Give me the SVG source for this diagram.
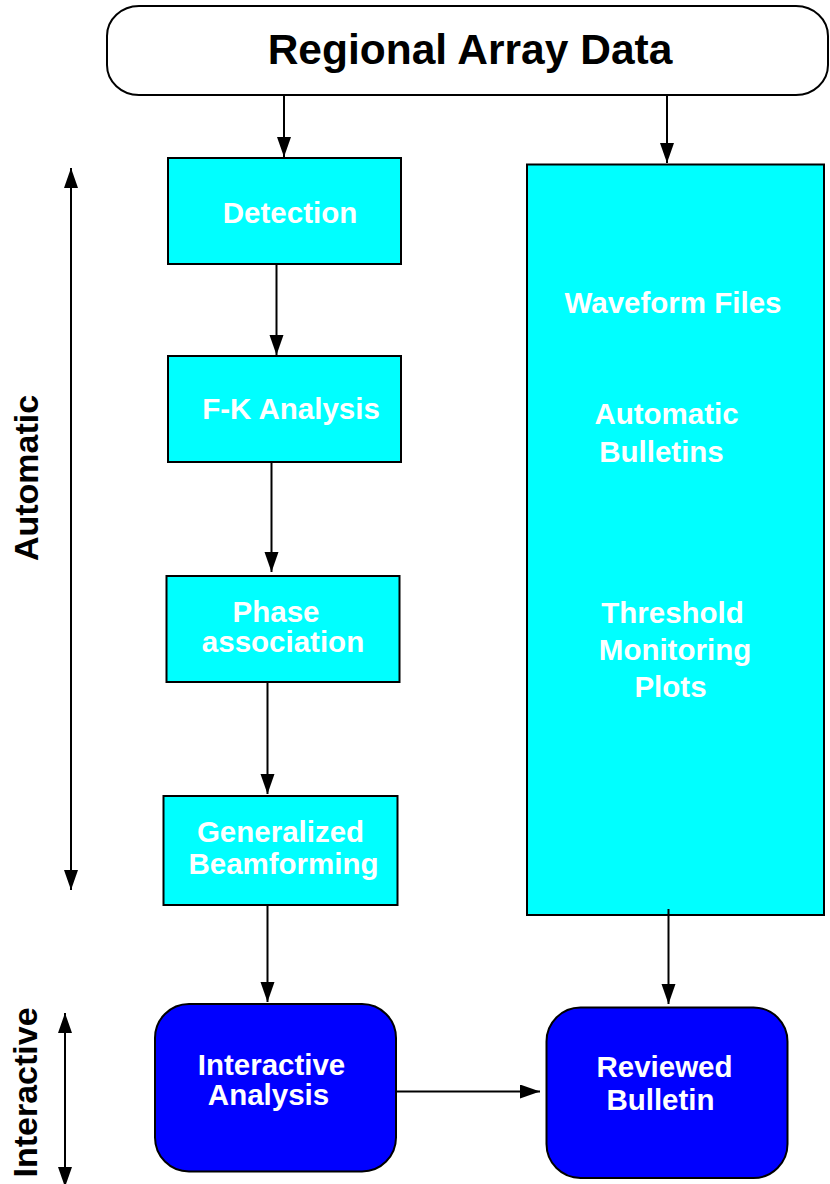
<svg xmlns="http://www.w3.org/2000/svg" width="830" height="1184" viewBox="0 0 830 1184">
<style>
.box{fill:#00ffff;stroke:#000;stroke-width:2}
.rbox{fill:#0000ff;stroke:#000;stroke-width:2}
.wt{fill:#fff;font-family:"Liberation Sans",Arial,sans-serif;font-weight:bold;font-size:29.5px;text-anchor:middle}
.bt{fill:#000;font-family:"Liberation Sans",Arial,sans-serif;font-weight:bold;text-anchor:middle}
.ln{stroke:#000;stroke-width:2;fill:none}
.arr{marker-end:url(#ah)}
.dbl{marker-start:url(#ah);marker-end:url(#ah)}
</style>
<defs>
<marker id="ah" markerUnits="userSpaceOnUse" markerWidth="21" markerHeight="15" refX="20" refY="7" orient="auto-start-reverse">
<path d="M0,0 L20,7 L0,14 Z" fill="#000"/>
</marker>
</defs>
<rect width="830" height="1184" fill="#fff"/>
<g id="regional-array-data">
<rect x="107" y="6" width="721" height="89" rx="32" ry="30" fill="#fff" stroke="#000" stroke-width="2"/>
<text class="bt" x="470" y="64" font-size="42.5">Regional Array Data</text>
</g>
<g id="detection">
<rect class="box" x="168" y="158" width="233" height="106"/>
<text class="wt" x="290" y="222.5">Detection</text>
</g>
<g id="fk-analysis">
<rect class="box" x="168" y="356" width="233" height="106"/>
<text class="wt" x="291" y="419">F-K Analysis</text>
</g>
<g id="phase-association">
<rect class="box" x="166.5" y="576" width="233" height="106"/>
<text class="wt" x="276" y="622">Phase</text>
<text class="wt" x="283" y="652">association</text>
</g>
<g id="generalized-beamforming">
<rect class="box" x="163.5" y="796" width="234" height="109"/>
<text class="wt" x="280.5" y="841.5">Generalized</text>
<text class="wt" x="283.5" y="874">Beamforming</text>
</g>
<g id="outputs">
<rect class="box" x="527" y="164.5" width="297" height="750.5"/>
<text class="wt" x="673" y="313">Waveform Files</text>
<text class="wt" x="666.5" y="424">Automatic</text>
<text class="wt" x="661.5" y="461.5">Bulletins</text>
<text class="wt" x="672.5" y="622.5">Threshold</text>
<text class="wt" x="675" y="660">Monitoring</text>
<text class="wt" x="670.5" y="696.5">Plots</text>
</g>
<g id="interactive-analysis">
<rect class="rbox" x="155" y="1004" width="241" height="167.5" rx="34" ry="34"/>
<text class="wt" x="271.5" y="1075">Interactive</text>
<text class="wt" x="268.5" y="1105">Analysis</text>
</g>
<g id="reviewed-bulletin">
<rect class="rbox" x="546.5" y="1007.5" width="241" height="170.5" rx="34" ry="34"/>
<text class="wt" x="664.5" y="1077">Reviewed</text>
<text class="wt" x="660.5" y="1110">Bulletin</text>
</g>
<g id="phase-labels">
<text class="bt" font-size="34" transform="translate(38,478) rotate(-90)">Automatic</text>
<text class="bt" font-size="34" transform="translate(37,1092.5) rotate(-90)">Interactive</text>
</g>
<g id="connectors">
<line class="ln arr" x1="284" y1="95" x2="284" y2="157"/>
<line class="ln arr" x1="667" y1="95" x2="667" y2="163"/>
<line class="ln arr" x1="276.5" y1="264" x2="276.5" y2="355"/>
<line class="ln arr" x1="271.5" y1="462" x2="271.5" y2="572"/>
<line class="ln arr" x1="267.5" y1="682" x2="267.5" y2="794"/>
<line class="ln arr" x1="267.5" y1="905" x2="267.5" y2="1002"/>
<line class="ln arr" x1="668.5" y1="909" x2="668.5" y2="1004"/>
<line class="ln arr" x1="396" y1="1091.5" x2="540" y2="1091.5"/>
<line class="ln dbl" x1="71" y1="168" x2="71" y2="890"/>
<line class="ln dbl" x1="65" y1="1013" x2="65" y2="1187"/>
</g>
</svg>
